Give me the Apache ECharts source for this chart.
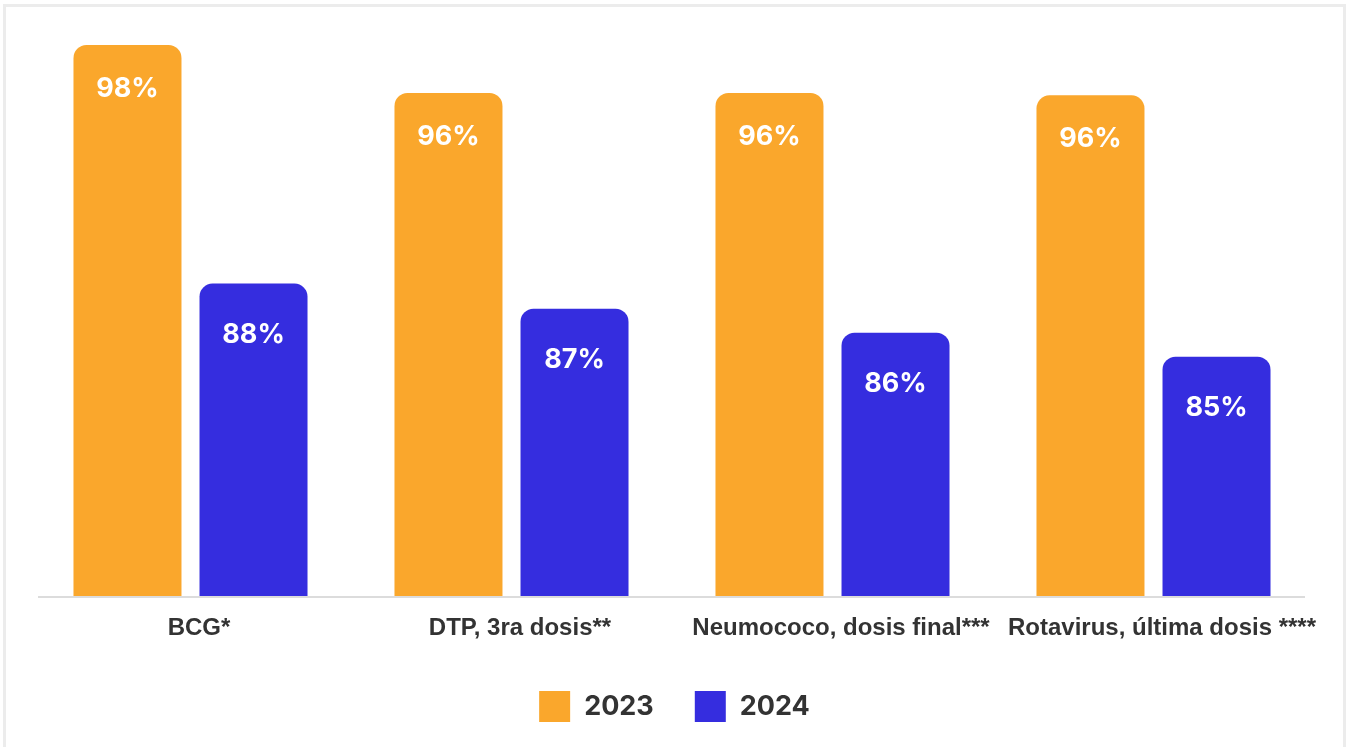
<!DOCTYPE html>
<html>
<head>
<meta charset="utf-8">
<script src="https://cdn.jsdelivr.net/npm/echarts@6/dist/echarts.min.js"></script>
<style>
  html, body { margin: 0; padding: 0; background: #ffffff; }
  #chart { width: 1349px; height: 747px; }
</style>
</head>
<body>
<div id="chart"></div>
<script>
const categories = ['BCG*', 'DTP, 3ra dosis**', 'Neumococo, dosis final***', 'Rotavirus, última dosis ****'];
const seriesNames = ['2023', '2024'];
const values2023 = [98, 96, 96, 95.9];
const values2024 = [88.05, 87, 86, 85];

const ORANGE = '#FAA72C';
const BLUE = '#352DDF';
const TEXT = '#333333';

const chart = echarts.init(document.getElementById('chart'), null, { renderer: 'canvas' });

const labelFmt = p => Math.round(p.value) + '%';

chart.setOption({
  animation: false,
  backgroundColor: '#ffffff',
  grid: { left: 30, right: 35, top: 45, bottom: 150.5, containLabel: false },
  graphic: [
    { type: 'rect', z: 0, silent: true,
      shape: { x: 4.5, y: 5.5, width: 1340, height: 800 },
      style: { fill: 'none', stroke: '#ececec', lineWidth: 3 } },
    { type: 'line', z: 100, silent: true,
      shape: { x1: 38, y1: 597, x2: 1305, y2: 597 },
      style: { stroke: '#dcdcdc', lineWidth: 2 } }
  ],
  legend: {
    data: seriesNames,
    left: 'center',
    top: 686,
    icon: 'rect',
    itemWidth: 31,
    itemHeight: 31,
    itemGap: 41,
    textStyle: { fontFamily: 'Inter, "Liberation Sans", Arial, sans-serif', fontSize: 27, fontWeight: 'bold', color: TEXT, padding: [0, 0, 0, 9] }
  },
  xAxis: {
    type: 'category',
    data: categories,
    axisLine: { show: false },
    axisTick: { show: false },
    axisLabel: {
      margin: 20,
      fontFamily: '"Liberation Sans", Arial, sans-serif',
      fontSize: 24,
      fontWeight: 'bold',
      color: TEXT,
      padding: [0, 0, 0, 17],
      interval: 0
    }
  },
  yAxis: {
    type: 'value',
    min: 75,
    max: 98,
    show: false,
    splitLine: { show: false }
  },
  series: [
    {
      name: seriesNames[0],
      type: 'bar',
      data: values2023,
      barWidth: 108,
      barGap: '16.7%',
      itemStyle: { color: ORANGE, borderRadius: [13, 13, 0, 0] },
      label: {
        show: true, position: 'insideTop', distance: 30,
        formatter: labelFmt,
        fontFamily: 'Inter, "Liberation Sans", Arial, sans-serif',
        fontSize: 27, fontWeight: 'bold', color: '#ffffff'
      }
    },
    {
      name: seriesNames[1],
      type: 'bar',
      data: values2024,
      barWidth: 108,
      itemStyle: { color: BLUE, borderRadius: [13, 13, 0, 0] },
      label: {
        show: true, position: 'insideTop', distance: 38,
        formatter: labelFmt,
        fontFamily: 'Inter, "Liberation Sans", Arial, sans-serif',
        fontSize: 27, fontWeight: 'bold', color: '#ffffff'
      }
    }
  ]
});
</script>
</body>
</html>
